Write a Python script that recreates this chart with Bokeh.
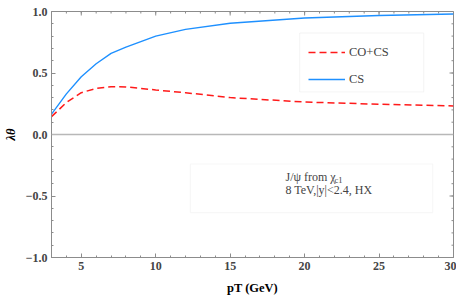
from bokeh.plotting import figure
from bokeh.models import (FixedTicker, LinearAxis, Span, BoxAnnotation, Label,
                          Legend, LegendItem, Range1d)
from bokeh.embed import file_html
from bokeh.resources import INLINE

# ---- data ----
pt = [3, 4, 5, 6, 7, 8, 10, 12, 15, 20, 25, 30]
cs = [0.165, 0.33, 0.47, 0.575, 0.66, 0.71, 0.80, 0.855, 0.905, 0.947, 0.968, 0.98]
cocs = [0.145, 0.26, 0.34, 0.375, 0.388, 0.387, 0.362, 0.34, 0.30, 0.264, 0.246, 0.232]

x_major = [5, 10, 15, 20, 25, 30]
x_minor = [v for v in range(3, 31)]
y_major = [-1.0, -0.5, 0.0, 0.5, 1.0]
y_minor = [round(-1 + 0.1 * i, 1) for i in range(21)]
y_labels = {-1.0: "\u22121.0", -0.5: "\u22120.5", 0.0: "0.0", 0.5: "0.5", 1.0: "1.0"}

FONT = "Liberation Serif"
FRAME = "#8c8c8c"

p = figure(width=456, height=299, output_backend="svg", toolbar_location=None,
           x_range=Range1d(3, 30), y_range=Range1d(-1, 1),
           x_axis_type=None, y_axis_type=None,
           min_border_left=48, min_border_right=3, min_border_top=11, min_border_bottom=42)
p.grid.visible = False
p.outline_line_color = FRAME
p.background_fill_color = "white"
p.border_fill_color = "white"


def style_axis(ax, major, minor):
    ax.ticker = FixedTicker(ticks=major, minor_ticks=minor)
    ax.axis_line_color = FRAME
    ax.major_tick_line_color = FRAME
    ax.minor_tick_line_color = FRAME
    ax.major_tick_in = 4
    ax.major_tick_out = 0
    ax.minor_tick_in = 2
    ax.minor_tick_out = 0
    ax.major_label_text_font = FONT
    ax.major_label_text_font_style = "bold"
    ax.major_label_text_font_size = "12px"
    ax.major_label_standoff = 4
    ax.axis_label_text_font = FONT
    ax.axis_label_text_font_style = "bold italic"
    ax.axis_label_text_font_size = "12.5px"
    ax.axis_label_text_color = "black"


bx = LinearAxis(axis_label="pT (GeV)")
style_axis(bx, x_major, x_minor)
bx.axis_label_text_font_style = "bold"
bx.axis_label_standoff = 8
ly = LinearAxis(axis_label="\u03bb\u03b8")
style_axis(ly, y_major, y_minor)
ly.major_label_overrides = y_labels
ly.axis_label_standoff = 5
p.add_layout(bx, "below")
p.add_layout(ly, "left")

# ticks on the top and right edges of the frame (Mathematica-style frame ticks)
dy = 2.0 / 246
dx = 27.0 / 405
p.segment(x0=x_minor, y0=[1.0] * len(x_minor), x1=x_minor, y1=[1.0 - 2 * dy] * len(x_minor),
          line_color=FRAME, line_width=1)
p.segment(x0=x_major, y0=[1.0] * len(x_major), x1=x_major, y1=[1.0 - 4 * dy] * len(x_major),
          line_color=FRAME, line_width=1)
p.segment(x0=[30.0] * len(y_minor), y0=y_minor, x1=[30.0 - 2 * dx] * len(y_minor), y1=y_minor,
          line_color=FRAME, line_width=1)
p.segment(x0=[30.0] * len(y_major), y0=y_major, x1=[30.0 - 4 * dx] * len(y_major), y1=y_major,
          line_color=FRAME, line_width=1)

p.add_layout(Span(location=0, dimension="width", line_color="#b8b8b8", line_width=1.5))

r_cs = p.line(pt, cs, line_color="#1e90ff", line_width=1.4)
r_co = p.line(pt, cocs, line_color="#ff1a1a", line_width=1.5, line_dash="7 4")

# legend frame and info frame
p.add_layout(BoxAnnotation(left=19.67, right=28.0, top=0.825, bottom=0.346,
                           fill_alpha=0, line_color="#dcdcdc", line_width=1))
p.add_layout(BoxAnnotation(left=12.33, right=28.6, top=-0.24, bottom=-0.635,
                           fill_alpha=0, line_color="#e6e6e6", line_width=1.2))

legend = Legend(items=[LegendItem(label="CO+CS", renderers=[r_co]),
                       LegendItem(label="CS", renderers=[r_cs])],
                location=(257, 168), padding=0, margin=0, spacing=7,
                glyph_width=37, glyph_height=20, label_height=20, label_standoff=4,
                label_text_font=FONT, label_text_font_size="12.5px",
                border_line_alpha=0, background_fill_alpha=0)
p.add_layout(legend)

# info text (inside the frame)
p.add_layout(Label(x=234, y=81, x_units="screen", y_units="screen", text="J/\u03c8 from \u03c7",
                   text_font=FONT, text_font_size="12px", text_align="left",
                   text_baseline="alphabetic"))
p.add_layout(Label(x=283, y=78, x_units="screen", y_units="screen", text="c1",
                   text_font=FONT, text_font_size="8.5px", text_align="left",
                   text_baseline="alphabetic"))
p.add_layout(Label(x=234, y=68, x_units="screen", y_units="screen", text="8 TeV,|y|<2.4, HX",
                   text_font=FONT, text_font_size="12px", text_align="left",
                   text_baseline="alphabetic"))

open("out.html", "w").write(file_html(p, INLINE))
